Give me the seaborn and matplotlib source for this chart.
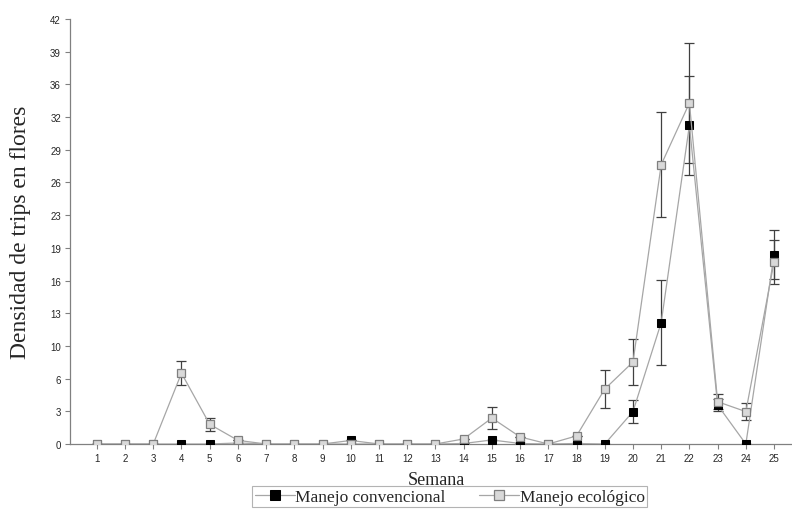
import numpy as np
import pandas as pd
import matplotlib
matplotlib.use('Agg')
import matplotlib.pyplot as plt
import seaborn as sns

# Datos (densidad de trips por semana)
semanas = list(range(1, 26))
convencional = [0, 0, 0, 0, 0, 0.1, 0, 0, 0, 0.35, 0, 0, 0, 0.05, 0.4, 0.05, 0, 0.05,
                0, 3.2, 12.0, 31.5, 3.85, 0, 18.7]
convencional_err = [0, 0, 0, 0, 0, 0, 0, 0, 0, 0, 0, 0, 0, 0, 0, 0, 0, 0,
                    0, 1.1, 4.2, 4.9, 0.6, 0, 2.4]
ecologico = [0, 0, 0, 7.0, 1.95, 0.36, 0, 0, 0, 0, 0, 0, 0, 0.5, 2.57, 0.7, 0, 0.8,
             5.43, 8.1, 27.6, 33.7, 4.18, 3.2, 18.0]
ecologico_err = [0, 0, 0, 1.2, 0.65, 0, 0, 0, 0, 0, 0, 0, 0, 0, 1.1, 0, 0, 0,
                 1.9, 2.3, 5.2, 5.9, 0.75, 0.85, 2.2]

sns.set_style('ticks')

df = pd.DataFrame({
    'semana': semanas * 2,
    'densidad': convencional + ecologico,
    'manejo': ['Manejo convencional'] * 25 + ['Manejo ecológico'] * 25,
})

fig = plt.figure(figsize=(7.92, 5.1), dpi=100)
ax = fig.add_axes([70 / 792, 65 / 510, 721 / 792, 425 / 510])

line_col = '#a6a6a6'
err_col = '#404040'

# barras de error
ax.errorbar(semanas, convencional, yerr=convencional_err, fmt='none',
            ecolor=err_col, elinewidth=0.9, capsize=3.5, capthick=0.9, zorder=2)
ax.errorbar(semanas, ecologico, yerr=ecologico_err, fmt='none',
            ecolor=err_col, elinewidth=0.9, capsize=3.5, capthick=0.9, zorder=2)

sns.lineplot(data=df[df['manejo'] == 'Manejo convencional'], x='semana', y='densidad',
             ax=ax, color=line_col, linewidth=0.9, marker='s', markersize=6,
             markerfacecolor='black', markeredgecolor='black', zorder=3,
             label='Manejo convencional', legend=False)
sns.lineplot(data=df[df['manejo'] == 'Manejo ecológico'], x='semana', y='densidad',
             ax=ax, color=line_col, linewidth=0.9, marker='s', markersize=6,
             markerfacecolor='#d9d9d9', markeredgecolor='#7f7f7f', markeredgewidth=0.9,
             zorder=4, label='Manejo ecológico', legend=False)

ax.set_xlim(0.05, 25.6)
ax.set_ylim(0, 42)
ax.set_xticks(semanas)
ax.set_xticklabels([str(s) for s in semanas], fontsize=7, family='Liberation Sans')
yt = np.linspace(0, 42, 14)
ax.set_yticks(yt)
ax.set_yticklabels([str(int(round(v))) for v in yt], fontsize=7, family='Liberation Sans')
ax.tick_params(axis='both', length=3.5, width=0.8, color='#808080', pad=3)

for s in ['top', 'right']:
    ax.spines[s].set_visible(False)
for s in ['left', 'bottom']:
    ax.spines[s].set_color('#808080')
    ax.spines[s].set_linewidth(0.9)

ax.set_xlabel('')
ax.set_ylabel('Densidad de trips en flores', fontsize=17, family='Liberation Serif',
              labelpad=14)
fig.text(436 / 792, 1 - 485 / 510, 'Semana', fontsize=13, family='Liberation Serif',
         ha='center', va='baseline')

handles, labels = ax.get_legend_handles_labels()
leg = fig.legend(handles, labels, loc='upper left', bbox_to_anchor=(252 / 792, 1 - 487 / 510),
                 ncol=2, frameon=True, fancybox=False, edgecolor='#a0a0a0',
                 prop={'family': 'Liberation Serif', 'size': 12.5}, markerscale=1.2,
                 handlelength=2.3, handletextpad=0.05, columnspacing=1.9,
                 borderpad=0.15, borderaxespad=0)
leg.get_frame().set_linewidth(0.8)

fig.savefig('out.png', dpi=100)
